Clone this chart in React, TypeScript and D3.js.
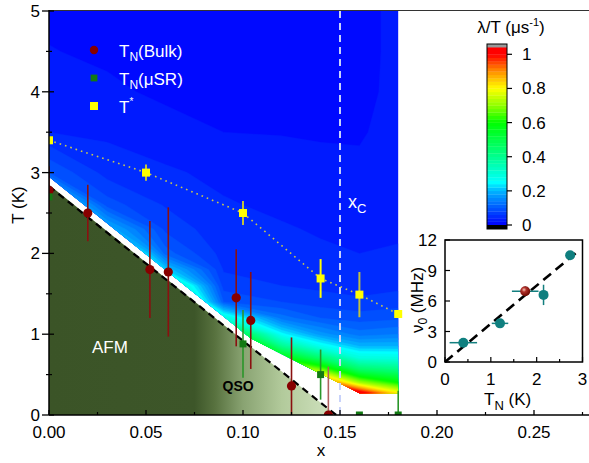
import React from 'react';
import * as d3 from 'd3';

const W = 589, H = 463;

// ---- main phase diagram data ----
const bulkX = [0.0, 0.02, 0.052, 0.0615, 0.0965, 0.104, 0.125, 0.144];
const bulkT = [2.78, 2.5, 1.8, 1.77, 1.45, 1.17, 0.36, 0.0];
const bulkErr = [0.3, 0.35, 0.6, 0.8, 0.6, 0.6, 0.6, 0.6];

const musrX = [0.0, 0.1, 0.14, 0.16, 0.18];
const musrT = [2.7, 0.88, 0.5, 0.0, 0.0];
const musrErr = [0.0, 0.42, 0.31, 0.0, 0.3];

const tStarX = [0.0, 0.05, 0.1, 0.14, 0.16, 0.18];
const tStarT = [3.4, 3.0, 2.5, 1.69, 1.49, 1.25];
const tStarErr = [0.0, 0.1, 0.15, 0.24, 0.28, 0.05];

const afmEdgeX = [0, 0.148];
const afmEdgeT = [2.85, 0];
const tnLineX = [0, 0.148];
const tnLineT = [2.83, 0];
const xC = 0.15;

// lambda/T field (rows: T ascending, columns: x)
const gridX = [0, 0.03, 0.06, 0.09, 0.12, 0.14, 0.16, 0.18];
const gridT = [0.25, 0.4, 0.55, 0.7, 0.85, 1.0, 1.2, 1.4, 1.6, 1.8, 2.0, 2.3, 2.6, 3.0, 3.5, 4.0, 4.5, 5.0];
const lambdaT = [
  [1.2, 1.2, 1.2, 1.2, 1.2, 1.1, 1.1, 0.85],
  [1.2, 1.2, 1.2, 1.2, 1.1, 1.0, 0.72, 0.6],
  [1.2, 1.2, 1.1, 1.1, 0.85, 0.7, 0.47, 0.43],
  [1.2, 1.2, 1.0, 1.0, 0.6, 0.45, 0.3, 0.29],
  [1.2, 1.1, 0.9, 0.85, 0.4, 0.27, 0.2, 0.2],
  [1.1, 1.0, 0.8, 0.6, 0.25, 0.17, 0.13, 0.14],
  [1.0, 0.9, 0.7, 0.3, 0.13, 0.1, 0.09, 0.095],
  [0.9, 0.8, 0.55, 0.1, 0.08, 0.07, 0.065, 0.07],
  [0.8, 0.7, 0.4, 0.07, 0.06, 0.055, 0.05, 0.055],
  [0.7, 0.6, 0.22, 0.058, 0.052, 0.048, 0.045, 0.048],
  [0.6, 0.45, 0.11, 0.052, 0.047, 0.043, 0.04, 0.042],
  [0.45, 0.2, 0.075, 0.046, 0.042, 0.038, 0.035, 0.037],
  [0.3, 0.09, 0.058, 0.042, 0.036, 0.032, 0.03, 0.033],
  [0.1, 0.052, 0.043, 0.035, 0.03, 0.026, 0.024, 0.03],
  [0.04, 0.036, 0.028, 0.02, 0.019, 0.018, 0.018, 0.027],
  [0.03, 0.024, 0.016, 0.015, 0.012, 0.012, 0.015, 0.025],
  [0.021, 0.016, 0.012, 0.01, 0.01, 0.01, 0.015, 0.024],
  [0.015, 0.012, 0.01, 0.01, 0.01, 0.01, 0.015, 0.024],
];
const floorX = [0, 0.104, 0.16, 0.18];
const floorT = [2.95, 0.95, 0.27, 0.27];

// ---- inset data ----
const insetTN = [0.4, 1.2, 2.15, 2.73];
const insetNu = [1.9, 3.8, 6.6, 10.5];
const insetTNErr = [0.3, 0.18, 0, 0];
const insetNuErr = [0, 0, 1.0, 0];
const bulkInsetTN = [1.75];
const bulkInsetNu = [6.96];
const bulkInsetTNErr = [0.29];
const bulkInsetNuErr = [0.5];
const fitTN = [0, 2.9];
const fitNu = [0, 10.9];

// ---- ticks ----
const xTicks = [0, 0.05, 0.1, 0.15, 0.2, 0.25];
const xMinor = [0.025, 0.075, 0.125, 0.175, 0.225, 0.275];
const yTicks = [0, 1, 2, 3, 4, 5];
const yMinor = [0.5, 1.5, 2.5, 3.5, 4.5];
const cbTicks = [0, 0.2, 0.4, 0.6, 0.8, 1];
const insetXTicks = [0, 1, 2, 3];
const insetXMinor = [0.5, 1.5, 2.5];
const insetYTicks = [0, 3, 6, 9, 12];

const cmap = d3.scaleLinear<string>()
  .domain([0, 0.1, 0.2, 0.25, 0.4, 0.6, 0.7, 0.8, 0.9, 1.0])
  .range(['#0000ff', '#0058ff', '#00b4ff', '#00ffff', '#00ff90', '#00ff00', '#90ff00', '#ffff00', '#ff9000', '#ff0000'])
  .clamp(true);

const FONT = '"Liberation Sans", Arial, Helvetica, sans-serif';

export default function App() {
  const xS = d3.scaleLinear().domain([0, 0.05]).range([49, 146]);
  const yS = d3.scaleLinear().domain([0, 5]).range([415, 11]);
  const left = 49, right = 589, top = 11, bottom = 415;

  // contours
  const n = gridX.length, m = gridT.length;
  const values = lambdaT.flat();
  const thresholds = d3.range(0, 1.2, 0.02);
  const conts = d3.contours().size([n, m]).thresholds(thresholds)(values);
  const ix = d3.scaleLinear().domain(d3.range(n)).range(gridX).clamp(true);
  const iy = d3.scaleLinear().domain(d3.range(m)).range(gridT).clamp(true);
  const proj = (p: number[]) => `${xS(ix(p[0] - 0.5)).toFixed(2)},${yS(iy(p[1] - 0.5)).toFixed(2)}`;
  const contPaths = conts.map((c: any) => {
    const d = c.coordinates
      .map((poly: number[][][]) => poly.map((ring) => 'M' + ring.map(proj).join('L') + 'Z').join(''))
      .join('');
    return { d, fill: cmap(c.value + 0.01) };
  });

  const floorPts: [number, number][] = [[0, 5], [0.18, 5]];
  for (let i = floorX.length - 1; i >= 0; i--) floorPts.push([floorX[i], floorT[i]]);
  const floorPath = 'M' + floorPts.map((p) => `${xS(p[0])},${yS(p[1])}`).join('L') + 'Z';

  const afmPath = `M${xS(0)},${yS(0)}L${xS(afmEdgeX[0])},${yS(afmEdgeT[0])}L${xS(afmEdgeX[1])},${yS(afmEdgeT[1])}Z`;

  const tStarLine = d3.line<number>().x((i) => xS(tStarX[i])).y((i) => yS(tStarT[i]))(d3.range(tStarX.length)) || '';

  // inset scales
  const ixS = d3.scaleLinear().domain([0, 3]).range([445, 582.5]);
  const iyS = d3.scaleLinear().domain([0, 12]).range([362, 240]);

  const cbY = d3.scaleLinear().domain([0, 1]).range([225, 54.3]);
  const cbBands = d3.range(0, 1.04, 0.02);

  return (
    <svg width={W} height={H} style={{ position: 'absolute', left: 0, top: 0, background: '#fff', fontFamily: FONT }}>
      <defs>
        <clipPath id="plotClip"><rect x={left} y={top} width={right - left} height={bottom - top} /></clipPath>
        <clipPath id="fieldClip"><path d={floorPath} /></clipPath>
        <linearGradient id="afmGrad" gradientUnits="userSpaceOnUse" x1={xS(0)} x2={xS(0.15)} y1={0} y2={0}>
          <stop offset="0" stopColor="#3b5427" />
          <stop offset="0.5" stopColor="#3d5629" />
          <stop offset="0.57" stopColor="#58723f" />
          <stop offset="0.667" stopColor="#89a372" />
          <stop offset="0.8" stopColor="#b2ca9b" />
          <stop offset="1" stopColor="#d4e5c4" />
        </linearGradient>
        <radialGradient id="redBall" cx="0.38" cy="0.35" r="0.65">
          <stop offset="0" stopColor="#f5c8b8" />
          <stop offset="0.35" stopColor="#b0302a" />
          <stop offset="1" stopColor="#6a0800" />
        </radialGradient>
      </defs>

      {/* contour field */}
      <g clipPath="url(#fieldClip)">
        {contPaths.map((c, i) => (
          <path key={i} d={c.d} fill={c.fill} stroke={c.fill} strokeWidth={0.4} />
        ))}
      </g>

      {/* AFM region */}
      <path d={afmPath} fill="url(#afmGrad)" />

      <g clipPath="url(#plotClip)">
        {/* TN dashed line */}
        <line x1={xS(tnLineX[0])} y1={yS(tnLineT[0])} x2={xS(tnLineX[1])} y2={yS(tnLineT[1])}
          stroke="#000" strokeWidth={2.2} strokeDasharray="7,5" />
        {/* xC line */}
        <line x1={xS(xC)} y1={top} x2={xS(xC)} y2={bottom} stroke="#c8d2fa" strokeWidth={2} strokeDasharray="7,5" />
        {/* T* dotted */}
        <path d={tStarLine} fill="none" stroke="#c8c850" strokeWidth={1.6} strokeDasharray="1.6,4" />

        {/* error bars */}
        {tStarX.map((x, i) => tStarErr[i] > 0 && (
          <line key={'te' + i} x1={xS(x)} x2={xS(x)} y1={yS(tStarT[i] - tStarErr[i])} y2={yS(tStarT[i] + tStarErr[i])}
            stroke={i === 3 ? '#ffff00' : '#c0c040'} strokeWidth={2} />
        ))}
        {bulkX.map((x, i) => (
          <line key={'be' + i} x1={xS(x)} x2={xS(x)} y1={yS(bulkT[i] - bulkErr[i])} y2={yS(bulkT[i] + bulkErr[i])}
            stroke={i === 7 ? '#b06060' : '#8a1010'} strokeWidth={1.6} />
        ))}
        {musrX.map((x, i) => musrErr[i] > 0 && (
          <line key={'me' + i} x1={xS(x)} x2={xS(x)} y1={yS(musrT[i] - musrErr[i])} y2={yS(musrT[i] + musrErr[i])}
            stroke="#2a962a" strokeWidth={1.6} />
        ))}

        {/* markers */}
        {tStarX.map((x, i) => (
          <rect key={'ts' + i} x={xS(x) - 4} y={yS(tStarT[i]) - 4} width={8} height={8} fill="#ffff00" />
        ))}
        {bulkX.map((x, i) => (
          <circle key={'b' + i} cx={xS(x)} cy={yS(bulkT[i])} r={4.6} fill="#870000" />
        ))}
        {musrX.map((x, i) => (
          <rect key={'m' + i} x={xS(x) - 3.5} y={yS(musrT[i]) - 3.5} width={7} height={7} fill="#137a13" />
        ))}
      </g>

      {/* frame / axes */}
      <line x1={left} x2={right} y1={top - 0.5} y2={top - 0.5} stroke="#333" strokeWidth={1.2} />
      <line x1={left} x2={left} y1={top - 1} y2={bottom} stroke="#000" strokeWidth={1.5} />
      <line x1={left} x2={right} y1={bottom} y2={bottom} stroke="#000" strokeWidth={1.5} />
      {xTicks.map((t) => (
        <g key={'xt' + t}>
          <line x1={xS(t)} x2={xS(t)} y1={bottom} y2={bottom - 5} stroke="#000" strokeWidth={1.3} />
          <text x={xS(t)} y={438} fontSize={17} textAnchor="middle">{t.toFixed(2)}</text>
        </g>
      ))}
      {xMinor.map((t) => (
        <line key={'xm' + t} x1={xS(t)} x2={xS(t)} y1={bottom} y2={bottom - 3} stroke="#000" strokeWidth={1.2} />
      ))}
      {yTicks.map((t) => (
        <g key={'yt' + t}>
          <line x1={left - 7} x2={left + 5} y1={yS(t)} y2={yS(t)} stroke="#000" strokeWidth={1.3} />
          <text x={40} y={yS(t) + 6} fontSize={17} textAnchor="end">{t}</text>
        </g>
      ))}
      {yMinor.map((t) => (
        <line key={'ym' + t} x1={left - 3} x2={left + 3} y1={yS(t)} y2={yS(t)} stroke="#000" strokeWidth={1.2} />
      ))}
      <text x={321} y={456} fontSize={17} textAnchor="middle">x</text>
      <text transform="translate(24,205) rotate(-90)" fontSize={17} textAnchor="middle">T (K)</text>

      {/* legend */}
      <circle cx={94} cy={50} r={4.2} fill="#870000" />
      <rect x={90.6} y={74.6} width={6.8} height={6.8} fill="#137a13" />
      <rect x={90} y={102} width={8} height={8} fill="#ffff00" />
      <text x={119} y={56.5} fontSize={17} fill="#fff">T<tspan fontSize={12} dy={4}>N</tspan><tspan dy={-4}>(Bulk)</tspan></text>
      <text x={119} y={84.5} fontSize={17} fill="#fff">T<tspan fontSize={12} dy={4}>N</tspan><tspan dy={-4}>(μSR)</tspan></text>
      <text x={119} y={112.7} fontSize={17} fill="#fff">T<tspan fontSize={10} dy={-8}>*</tspan></text>

      {/* labels in plot */}
      <text x={348} y={208} fontSize={18} fill="#fff">x<tspan fontSize={13} dy={5}>C</tspan></text>
      <text x={92} y={353} fontSize={17} fill="#fff">AFM</text>
      <text x={222.5} y={390.5} fontSize={14} fontWeight="bold" fill="#000">QSO</text>

      {/* colorbar */}
      <text x={511} y={33} fontSize={17} textAnchor="middle">λ/T (μs<tspan fontSize={11} dy={-7}>-1</tspan><tspan dy={7}>)</tspan></text>
      <rect x={487} y={44} width={20} height={4} fill="#999" />
      {cbBands.map((v, i) => (
        <rect key={'cb' + i} x={487} y={cbY(v + 0.02)} width={20} height={cbY(v) - cbY(v + 0.02) + 0.3}
          fill={cmap(v + 0.01)} />
      ))}
      <rect x={487} y={225} width={20} height={4} fill="#000" />
      <rect x={487} y={44} width={20} height={185} fill="none" stroke="#000" strokeWidth={1} />
      {cbTicks.map((t) => (
        <g key={'cbt' + t}>
          <line x1={507} x2={512} y1={cbY(t)} y2={cbY(t)} stroke="#000" strokeWidth={1.2} />
          <text x={522} y={cbY(t) + 6} fontSize={17}>{t}</text>
        </g>
      ))}

      {/* inset */}
      <rect x={445} y={240} width={137.5} height={122} fill="#fff" />
      {insetXTicks.map((t) => (
        <g key={'ixt' + t}>
          <line x1={ixS(t)} x2={ixS(t)} y1={362} y2={357} stroke="#000" strokeWidth={1.2} />
          <text x={ixS(t)} y={385} fontSize={17} textAnchor="middle">{t}</text>
        </g>
      ))}
      {insetXMinor.map((t) => (
        <line key={'ixm' + t} x1={ixS(t)} x2={ixS(t)} y1={362} y2={359} stroke="#000" strokeWidth={1.2} />
      ))}
      {insetYTicks.map((t) => (
        <g key={'iyt' + t}>
          <line x1={445} x2={450} y1={iyS(t)} y2={iyS(t)} stroke="#000" strokeWidth={1.2} />
          <text x={437} y={iyS(t) + 6} fontSize={17} textAnchor="end">{t}</text>
        </g>
      ))}
      <line x1={ixS(fitTN[0])} y1={iyS(fitNu[0])} x2={ixS(fitTN[1])} y2={iyS(fitNu[1])}
        stroke="#000" strokeWidth={2.6} strokeDasharray="10,6" />
      {insetTN.map((t, i) => (
        <g key={'ip' + i}>
          {insetTNErr[i] > 0 && <line x1={ixS(t - insetTNErr[i])} x2={ixS(t + insetTNErr[i])} y1={iyS(insetNu[i])} y2={iyS(insetNu[i])} stroke="#137f7f" strokeWidth={1.5} />}
          {insetNuErr[i] > 0 && <line x1={ixS(t)} x2={ixS(t)} y1={iyS(insetNu[i] - insetNuErr[i])} y2={iyS(insetNu[i] + insetNuErr[i])} stroke="#137f7f" strokeWidth={1.5} />}
          <circle cx={ixS(t)} cy={iyS(insetNu[i])} r={5} fill="#0f7f7f" />
        </g>
      ))}
      {bulkInsetTN.map((t, i) => (
        <g key={'ibp' + i}>
          <line x1={ixS(t - bulkInsetTNErr[i])} x2={ixS(t + bulkInsetTNErr[i])} y1={iyS(bulkInsetNu[i])} y2={iyS(bulkInsetNu[i])} stroke="#137f7f" strokeWidth={1.5} />
          <line x1={ixS(t)} x2={ixS(t)} y1={iyS(bulkInsetNu[i] - bulkInsetNuErr[i])} y2={iyS(bulkInsetNu[i] + bulkInsetNuErr[i])} stroke="#137f7f" strokeWidth={1.5} />
          <circle cx={ixS(t)} cy={iyS(bulkInsetNu[i])} r={5} fill="url(#redBall)" />
        </g>
      ))}
      <rect x={445} y={240} width={137.5} height={122} fill="none" stroke="#000" strokeWidth={1.5} />
      <text x={484} y={405} fontSize={17}>T<tspan fontSize={13} dy={5}>N</tspan><tspan dy={-5}> (K)</tspan></text>
      <text transform="translate(423,300) rotate(-90)" fontSize={17} textAnchor="middle">ν<tspan fontSize={12} dy={4}>0</tspan><tspan dy={-4}> (MHz)</tspan></text>
    </svg>
  );
}
